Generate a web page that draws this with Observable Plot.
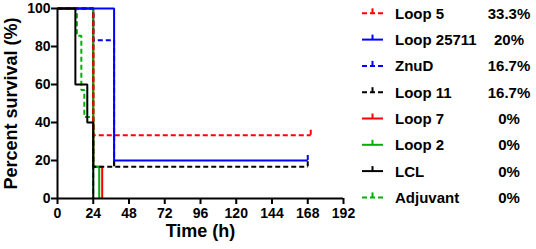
<!DOCTYPE html>
<html><head><meta charset="utf-8">
<script src="https://cdn.jsdelivr.net/npm/d3@7"></script>
<script src="https://cdn.jsdelivr.net/npm/@observablehq/plot@0.6"></script>
<style>body{margin:0;background:#fff;font-family:"Liberation Sans",Arial,sans-serif}</style>
</head><body><div id="chart"></div>
<script>
// Series (legend order)
const seriesNames = ["Loop 5","Loop 25711","ZnuD","Loop 11","Loop 7","Loop 2","LCL","Adjuvant"];
const seriesColors = ["#ff0000","#0000ff","#0000ff","#000000","#ff0000","#00b000","#000000","#00b000"];
const seriesDashed = [true,false,true,true,false,false,false,true];
const finalSurvival = ["33.3%","20%","16.7%","16.7%","0%","0%","0%","0%"];
// Kaplan-Meier step points [time (h), survival (%)]
const loop5 = [[0,100],[24,33.3],[170,33.3]];
const loop25711 = [[0,100],[38,20],[168,20]];
const znud = [[0,100],[24,83.3],[38,16.7]];
const loop11 = [[0,100],[24,16.7],[168,16.7]];
const loop7 = [[0,100],[24,16.7],[30,0]];
const loop2 = [[0,100],[24,16.7],[28,0]];
const lcl = [[0,100],[12,60],[20,40],[24,0]];
const adjuvant = [[0,100],[13,85.7],[16,57.1],[18,42.9],[24,0]];
const seriesPoints = [loop5,loop25711,znud,loop11,loop7,loop2,lcl,adjuvant];
// censored observations [series, time, survival]
const censored = [["Loop 5",170,33.3],["Loop 25711",168,20],["Loop 11",168,16.7],["Loop 11",38,16.7]];
const drawOrder = ["Loop 7","Loop 2","Adjuvant","ZnuD","Loop 11","Loop 5","Loop 25711","LCL"];
const xTicks = [0,24,48,72,96,120,144,168,192];
const yTicks = [0,20,40,60,80,100];

const colorOf = n => seriesColors[seriesNames.indexOf(n)];
const dashOf = n => seriesDashed[seriesNames.indexOf(n)] ? "5,3" : null;
const rows = n => seriesPoints[seriesNames.indexOf(n)].map(([t,s]) => ({name:n,t,s}));

const font = {fontFamily:"Liberation Sans, Arial, sans-serif", fontWeight:"bold"};
const marks = [];
for (const n of drawOrder) {
  marks.push(Plot.line(rows(n), {x:"t", y:"s", curve:"step-after", stroke: colorOf(n), strokeWidth: 2, strokeDasharray: dashOf(n), strokeLinecap:"butt", strokeLinejoin:"miter"}));
}
const censorRows = censored.map(([n,t,s]) => ({name:n,t,s}));
marks.push(Plot.ruleX(censorRows, {x:"t", y1:"s", y2:"s", insetBottom: 5, stroke: d => colorOf(d.name), strokeWidth: 2}));

const plot = Plot.plot({
  width: 536, height: 249,
  marginLeft: 57, marginRight: 193, marginTop: 8, marginBottom: 51,
  x: {domain:[0,192]},
  y: {domain:[0,100]},
  style: {background:"#fff", color:"#000"},
  marks: [
    Plot.axisX({ticks: xTicks, tickSize: 6, tickPadding: 4, fontSize: 14, ...font, label: null, strokeWidth: 2}),
    Plot.axisY({ticks: yTicks, tickSize: 6, tickPadding: 1, fontSize: 14, ...font, label: null, strokeWidth: 2}),
    ...marks,
    Plot.ruleY([0], {stroke:"#000", strokeWidth: 2}),
    Plot.ruleX([0], {stroke:"#000", strokeWidth: 2}),
    Plot.text(["Time (h)"], {frameAnchor:"bottom", dy: 38, fontSize: 18, ...font, fill:"#000"}),
    Plot.text(["Percent survival (%)"], {frameAnchor:"left", dx: -46, rotate: -90, textAnchor:"middle", lineAnchor:"middle", fontSize: 18, ...font, fill:"#000"})
  ]
});
document.getElementById("chart").appendChild(plot);

// Legend drawn inside the SVG
const svg = d3.select(plot);
const lg = svg.append("g").attr("font-family","Liberation Sans, Arial, sans-serif").attr("font-weight","bold").attr("font-size",15).attr("fill","#000");
seriesNames.forEach((n,i) => {
  const y = 13.3 + i*26.3;
  lg.append("line").attr("x1",362).attr("x2",383).attr("y1",y).attr("y2",y)
    .attr("stroke",seriesColors[i]).attr("stroke-width",2).attr("stroke-dasharray",seriesDashed[i]?"5,3":null);
  lg.append("line").attr("x1",372.5).attr("x2",372.5).attr("y1",y).attr("y2",y-5)
    .attr("stroke",seriesColors[i]).attr("stroke-width",2);
  lg.append("text").attr("x",395).attr("y",y).attr("dy","0.36em").attr("text-anchor","start").text(n);
  lg.append("text").attr("x",509).attr("y",y).attr("dy","0.36em").attr("text-anchor","middle").text(finalSurvival[i]);
});
</script></body></html>
